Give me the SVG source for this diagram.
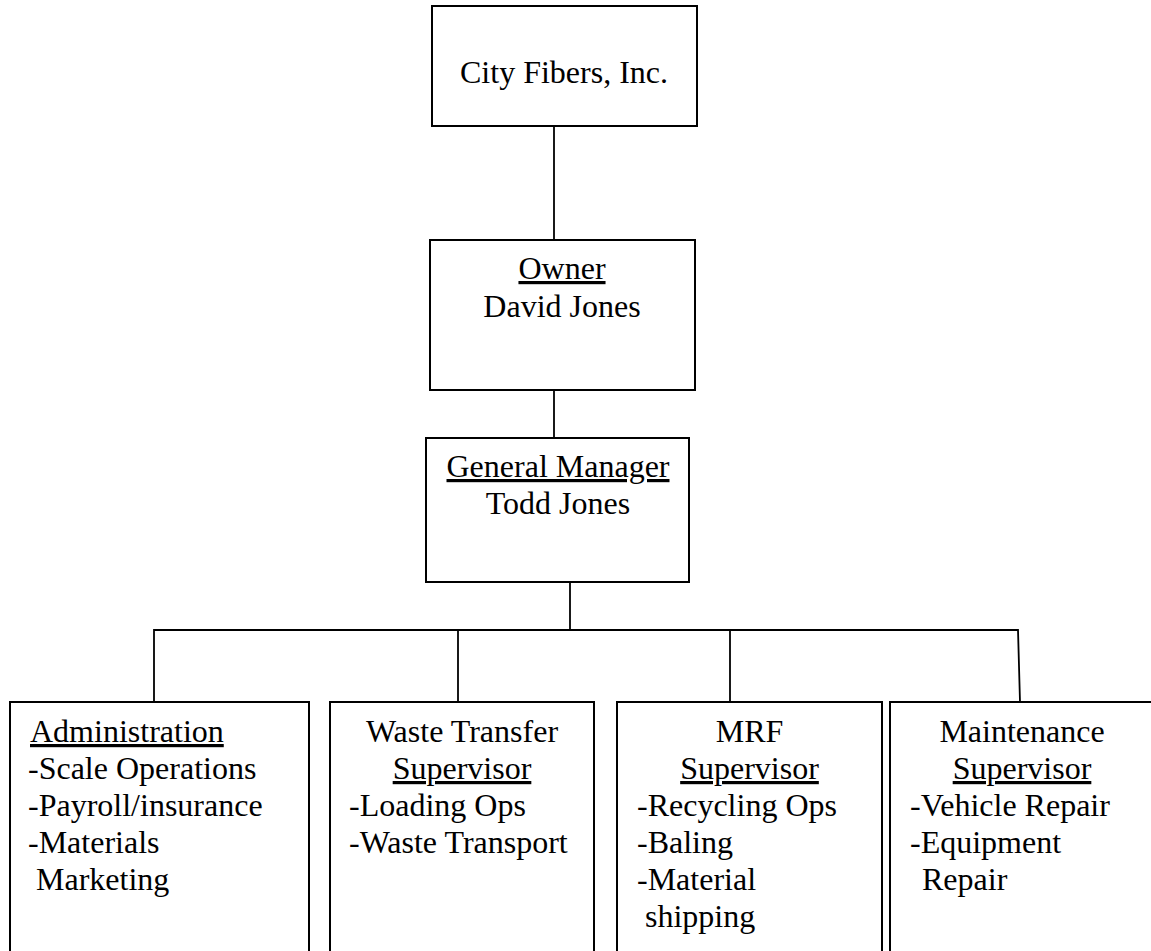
<svg xmlns="http://www.w3.org/2000/svg" width="1151" height="951" viewBox="0 0 1151 951">
<style>
.box{fill:#fff;stroke:#000;stroke-width:2}
.con{fill:none;stroke:#000;stroke-width:1.8}
text{font-family:"Liberation Serif","Times New Roman",serif;font-size:32px;fill:#000}
.c{text-anchor:middle}
.u{text-decoration:underline}
</style>
<rect width="1151" height="951" fill="#fff"/>
<g id="connectors">
<line class="con" x1="554" y1="126" x2="554" y2="240"/>
<line class="con" x1="554" y1="390" x2="554" y2="438"/>
<line class="con" x1="570" y1="582" x2="570" y2="630"/>
<polyline class="con" points="154,702 154,630 1018,630 1020,702"/>
<line class="con" x1="458" y1="630" x2="458" y2="702"/>
<line class="con" x1="730" y1="630" x2="730" y2="702"/>
</g>
<g id="city-fibers">
<rect class="box" x="432" y="6" width="265" height="120"/>
<text class="c" x="564" y="83">City Fibers, Inc.</text>
</g>
<g id="owner">
<rect class="box" x="430" y="240" width="265" height="150"/>
<text class="c u" x="562" y="279">Owner</text>
<text class="c" x="562" y="317">David Jones</text>
</g>
<g id="general-manager">
<rect class="box" x="426" y="438" width="263" height="144"/>
<text class="c u" x="558" y="477">General Manager</text>
<text class="c" x="558" y="514">Todd Jones</text>
</g>
<g id="administration">
<rect class="box" x="10" y="702" width="299" height="270"/>
<text class="u" x="30" y="742">Administration</text>
<text x="28" y="779">-Scale Operations</text>
<text x="28" y="816">-Payroll/insurance</text>
<text x="28" y="853">-Materials</text>
<text x="36" y="890">Marketing</text>
</g>
<g id="waste-transfer">
<rect class="box" x="330" y="702" width="264" height="270"/>
<text class="c" x="462" y="742">Waste Transfer</text>
<text class="c u" x="462" y="779">Supervisor</text>
<text x="349" y="816">-Loading Ops</text>
<text x="349" y="853">-Waste Transport</text>
</g>
<g id="mrf">
<rect class="box" x="617" y="702" width="265" height="270"/>
<text class="c" x="749.5" y="742">MRF</text>
<text class="c u" x="749.5" y="779">Supervisor</text>
<text x="637" y="816">-Recycling Ops</text>
<text x="637" y="853">-Baling</text>
<text x="637" y="890">-Material</text>
<text x="645" y="927">shipping</text>
</g>
<g id="maintenance">
<rect class="box" x="890" y="702" width="264" height="270"/>
<text class="c" x="1022" y="742">Maintenance</text>
<text class="c u" x="1022" y="779">Supervisor</text>
<text x="910" y="816">-Vehicle Repair</text>
<text x="910" y="853">-Equipment</text>
<text x="922" y="890">Repair</text>
</g>
</svg>
